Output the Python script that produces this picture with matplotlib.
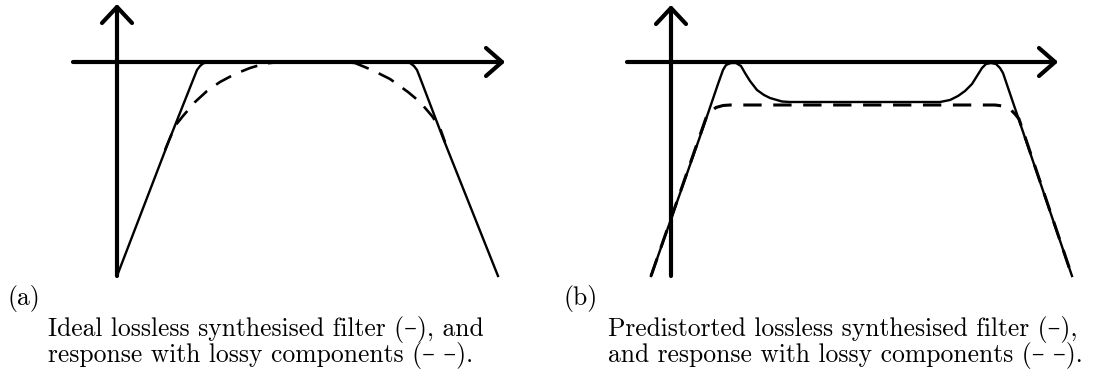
import matplotlib
matplotlib.use("Agg")
import matplotlib.pyplot as plt

W, H, DPI = 1107, 374, 100

# Panel (a): ideal lossless filter and its lossy response
# (frequency offset from the axis origin, gain below the passband level)
a_solid_f = [0, 53, 78, 80, 83, 86, 91, 288, 293, 297, 300, 302, 326, 381]
a_solid_g = [-214, -76, -13, -8, -4, -1.5, 0, 0, -1, -4, -8, -13, -76, -214]
a_dash_f = [48, 58, 66, 78, 90, 103, 118, 133, 148, 163, 223, 238, 255, 273, 291, 303, 315, 323, 328]
a_dash_g = [-88, -64, -54, -40, -29, -20, -12, -6, -1.5, 0, 0, -1, -8, -17, -30, -40, -54, -66, -80]

# Panel (b): predistorted lossless filter and its lossy response
b_solid_f = [-20, 32, 47, 52, 55, 60, 65, 70, 74, 79, 86, 93, 99, 111, 119,
             269, 279, 287, 294, 301, 306, 311, 315, 320, 325, 329, 332, 401]
b_solid_g = [-214, -66, -22, -8, -3, -1, -1, -4, -11, -19, -28, -33, -36, -39.5, -40,
             -40, -38, -34, -29, -22, -14, -6, -2, -1, -2, -6, -11, -214]
b_dash_f = [-20, 35, 39, 45, 52, 59, 324, 332, 339, 344, 348, 401]
b_dash_g = [-214, -56, -50, -45.5, -43.5, -43, -43, -44, -47, -52, -57, -214]

# Axis extents of each sketch (frequency axis, gain axis)
a_faxis = (-44, 385)
a_gaxis = (-214, 55)
b_faxis = (-44, 384)
b_gaxis = (-214, 54)

labels = ["(a)", "(b)"]
captions = [
    ["Ideal lossless synthesised filter (–), and",
     "response with lossy components (– –)."],
    ["Predistorted lossless synthesised filter (–),",
     "and response with lossy components (– –)."],
]

fig = plt.figure(figsize=(W / DPI, H / DPI), dpi=DPI)
fig.patch.set_facecolor("white")

AX_LW = 3.0
CURVE_LW = 1.7


def make_axes(px_left, px_right, origin_x, origin_y, px_bottom=280):
    ax = fig.add_axes([px_left / W, 1 - px_bottom / H,
                       (px_right - px_left) / W, px_bottom / H])
    ax.set_xlim(px_left - origin_x, px_right - origin_x)
    ax.set_ylim(origin_y - px_bottom, origin_y)
    ax.axis("off")
    return ax


def draw_axes_arrows(ax, faxis, gaxis):
    kw = dict(color="black", lw=AX_LW, solid_capstyle="round",
              solid_joinstyle="round")
    ax.plot([faxis[0], faxis[1]], [0, 0], **kw)
    ax.plot([0, 0], [gaxis[0], gaxis[1]], **kw)
    tip = faxis[1]
    ax.plot([tip - 16, tip, tip - 16], [14, 0, -14], **kw)
    tip = gaxis[1]
    ax.plot([-15, 0, 15], [tip - 16, tip, tip - 16], **kw)


ax_a = make_axes(0, 553, 117, 62)
draw_axes_arrows(ax_a, a_faxis, a_gaxis)
ax_a.plot(a_solid_f, a_solid_g, color="black", lw=CURVE_LW,
          solid_joinstyle="round")
ax_a.plot(a_dash_f, a_dash_g, color="black", lw=1.9,
          dashes=(6.5, 4.2), dash_capstyle="butt")

ax_b = make_axes(553, 1107, 671, 62)
draw_axes_arrows(ax_b, b_faxis, b_gaxis)
ax_b.plot(b_solid_f, b_solid_g, color="black", lw=CURVE_LW,
          solid_joinstyle="round")
ax_b.plot(b_dash_f, b_dash_g, color="black", lw=2.2,
          dashes=(6, 3.8), dash_capstyle="butt")

font = dict(family=["cmr10", "DejaVu Serif"], color="black", fontsize=18.4)
label_x = [8, 563]
text_x = [48, 608]
for lx, tx, lab, cap in zip(label_x, text_x, labels, captions):
    fig.text(lx / W, 1 - 305 / H, lab, va="baseline", ha="left", **font)
    fig.text(tx / W, 1 - 336 / H, cap[0], va="baseline", ha="left", **font)
    fig.text(tx / W, 1 - 362 / H, cap[1], va="baseline", ha="left", **font)

fig.savefig("out.png", dpi=DPI, facecolor="white")
